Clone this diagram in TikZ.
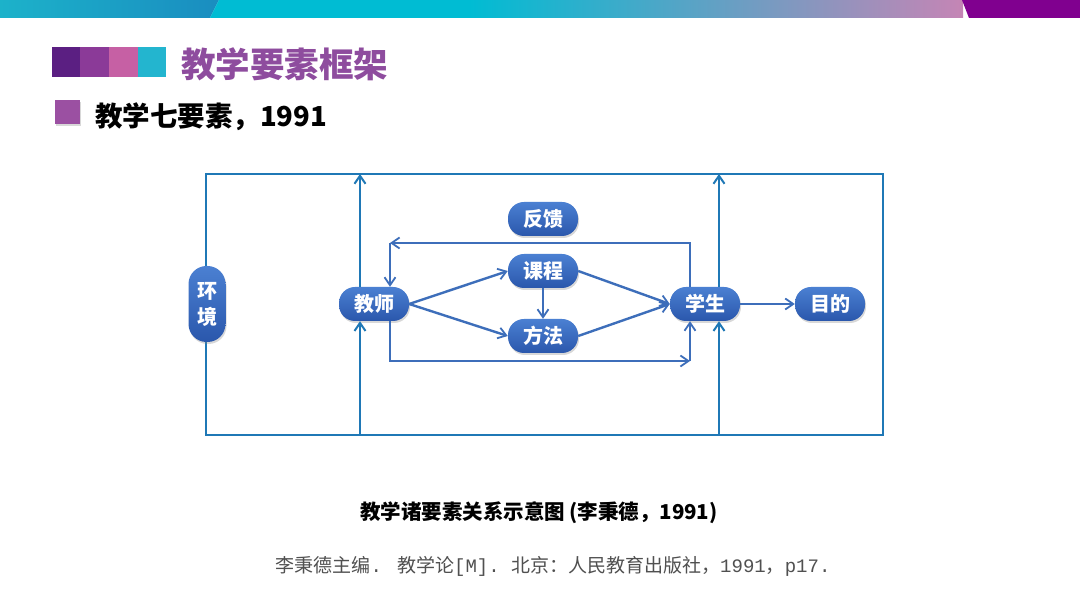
\documentclass[tikz,border=0pt]{standalone}
\usepackage{fontspec}
\setmainfont{Noto Sans CJK SC}
\newfontfamily\monofnt{Liberation Mono}
\usetikzlibrary{arrows.meta,shadows}
\definecolor{outerC}{HTML}{1F78B6}
\definecolor{innerC}{HTML}{3D6EBA}
\definecolor{nodeTop}{HTML}{4B80D2}
\definecolor{nodeBot}{HTML}{2A57AC}
\definecolor{titleC}{HTML}{8E4C9E}
\definecolor{sqA}{HTML}{5B1F82}
\definecolor{sqB}{HTML}{8B3A98}
\definecolor{sqC}{HTML}{C660A4}
\definecolor{sqD}{HTML}{23B5CF}
\definecolor{bulletC}{HTML}{9B50A2}
\definecolor{barA}{HTML}{1CB2CA}
\definecolor{barB}{HTML}{1A8DC0}
\definecolor{barC}{HTML}{00BCD3}
\definecolor{barD}{HTML}{C585B5}
\definecolor{barE}{HTML}{80008F}
\definecolor{refC}{HTML}{505050}
\begin{document}
\begin{tikzpicture}[x=1pt,y=1pt,
  pill/.style={draw=none, rounded corners=16pt, minimum width=70pt, minimum height=34pt,
    inner sep=0pt, top color=nodeTop, bottom color=nodeBot, text=white,
    font=\fontsize{20}{24}\selectfont\bfseries,
    drop shadow={opacity=0.3,shadow xshift=1pt,shadow yshift=-2pt}},
  vpill/.style={pill, rounded corners=18pt, minimum width=37pt, minimum height=76pt, align=center,
    font=\fontsize{20}{26}\selectfont\bfseries},
  oline/.style={draw=outerC, line width=2.8pt},
  oarr/.style={oline, -{Straight Barb[length=8pt,width=11pt,line width=2pt]}},
  iarr/.style={draw=innerC, line width=2.4pt, -{Straight Barb[length=8pt,width=11pt,line width=1.8pt]}},
  txt/.style={inner sep=0pt, anchor=center}]
\useasboundingbox (0,0) rectangle (1080,608);
\fill[white] (0,0) rectangle (1080,608);
% top bar
\shade[left color=barA, right color=barB] (0,590) -- (0,608) -- (219,608) -- (210,590) -- cycle;
\fill[barC] (210,590) -- (219,608) -- (470,608) -- (470,590) -- cycle;
\shade[left color=barC, right color=barD] (469,590) rectangle (963,608);
\fill[barE] (962,608) -- (1080,608) -- (1080,590) -- (969,590) -- cycle;
% title squares
\fill[sqA] (52,531) rectangle (80,561);
\fill[sqB] (80,531) rectangle (109,561);
\fill[sqC] (109,531) rectangle (138,561);
\fill[sqD] (138,531) rectangle (166,561);
\node[txt, anchor=west, text=titleC, font=\fontsize{34.5}{40}\selectfont\bfseries] (title) at (181,544) {教学要素框架};
% bullet
\fill[bulletC, drop shadow={opacity=0.3,shadow xshift=1pt,shadow yshift=-2pt}] (55,484) rectangle (80,508);
\node[txt, anchor=west, font=\fontsize{27.5}{32}\selectfont\bfseries] (sub) at (95,491) {教学七要素，1991};
% outer frame
\coordinate (TL) at (206,434);
\coordinate (TR) at (883,434);
\coordinate (BL) at (206,173);
\coordinate (BR) at (883,173);
\draw[oline] (TL) -- (TR) -- (BR) -- (BL) -- cycle;
\coordinate (v1t) at (360,434);
\coordinate (v1b) at (360,173);
\coordinate (v2t) at (719,434);
\coordinate (v2b) at (719,173);
% nodes
\node[vpill] (hj) at (207,304) {环\\境};
\node[pill] (js) at (374,304) {教师};
\node[pill] (fk) at (543,389) {反馈};
\node[pill] (kc) at (543,337) {课程};
\node[pill] (ff) at (543,272) {方法};
\node[pill] (xs) at (705,304) {学生};
\node[pill] (md) at (830,304) {目的};
% outer verticals
\draw[oarr] (v1b) -- (js.south -| v1b);
\draw[oarr] (js.north -| v1t) -- (v1t);
\draw[oarr] (v2b) -- (xs.south -| v2b);
\draw[oarr] (xs.north -| v2t) -- (v2t);
% feedback loop
\coordinate (fbR) at (690,365);
\coordinate (fbL) at (390,365);
\draw[iarr] (xs.north -| fbR) -- (fbR) -- (fbL);
\draw[iarr] (fbL) -- (js.north -| fbL);
% bottom loop
\coordinate (bL) at (390,247);
\coordinate (bR) at (690,247);
\draw[iarr] (js.south -| bL) -- (bL) -- (bR);
\draw[iarr] (bR) -- (xs.south -| bR);
% inner arrows
\draw[iarr] (js.east) -- (kc.west);
\draw[iarr] (js.east) -- (ff.west);
\draw[iarr] (kc.south) -- (ff.north);
\draw[iarr] (kc.east) -- (xs.west);
\draw[iarr] (ff.east) -- (xs.west);
\draw[iarr] (xs.east) -- (md.west);
% captions
\node[txt, font=\fontsize{20.5}{24}\selectfont\bfseries] (cap) at (539,95) {教学诸要素关系示意图\hspace{4pt}(李秉德，1991)};
\node[txt, text=refC, font=\fontsize{19}{22}\selectfont] (ref) at (553,42) {李秉德主编{\monofnt. }教学论{\monofnt[M]. }北京：人民教育出版社，{\monofnt 1991}，{\monofnt p17.}};
\end{tikzpicture}
\end{document}
